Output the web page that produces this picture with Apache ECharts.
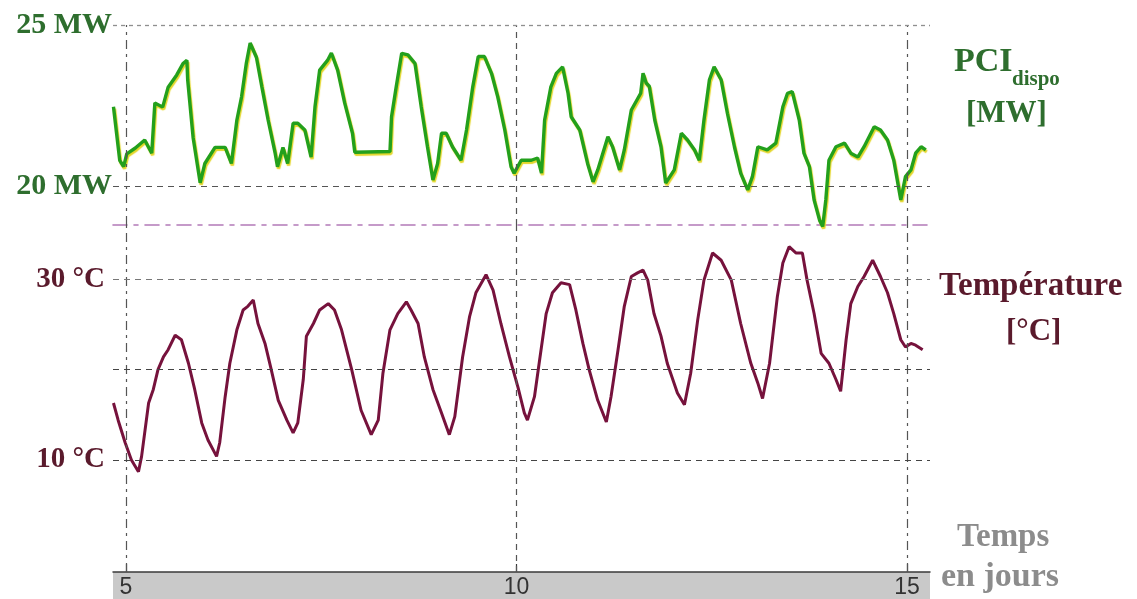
<!DOCTYPE html>
<html>
<head>
<meta charset="utf-8">
<script src="https://cdn.jsdelivr.net/npm/echarts@6/dist/echarts.min.js"></script>
<style>
html,body{margin:0;padding:0;background:#fff;}
#chart{width:1137px;height:599px;}
</style>
</head>
<body>
<div id="chart"></div>
<script>
// ---- data (days, values) ----
const pciDays = [4.84,4.92,4.97,5.01,5.12,5.24,5.33,5.37,5.47,5.54,5.65,5.73,5.78,5.79,5.86,5.95,6.01,6.14,6.27,6.35,6.42,6.48,6.54,6.59,6.67,6.74,6.82,6.91,6.94,7.01,7.07,7.14,7.20,7.29,7.37,7.42,7.48,7.58,7.63,7.71,7.80,7.90,7.93,8.38,8.40,8.46,8.53,8.61,8.70,8.78,8.86,8.93,8.99,9.04,9.10,9.18,9.29,9.36,9.44,9.51,9.59,9.68,9.76,9.85,9.93,9.97,10.06,10.19,10.27,10.32,10.36,10.44,10.51,10.59,10.66,10.70,10.81,10.91,10.98,11.04,11.17,11.23,11.32,11.38,11.47,11.59,11.62,11.66,11.70,11.77,11.85,11.91,12.02,12.11,12.19,12.28,12.34,12.40,12.47,12.53,12.62,12.70,12.79,12.87,12.96,13.02,13.09,13.21,13.32,13.41,13.47,13.53,13.62,13.68,13.75,13.81,13.88,13.92,13.96,14.00,14.09,14.20,14.28,14.37,14.45,14.58,14.66,14.75,14.83,14.92,14.98,15.05,15.11,15.18,15.24];
const pciMW = [22.46,20.8,20.6,21.0,21.18,21.43,21.02,22.58,22.45,23.07,23.45,23.8,23.9,23.3,21.5,20.1,20.7,21.2,21.2,20.7,22.05,22.77,23.8,24.44,24.0,23.08,22.05,21.02,20.6,21.2,20.7,21.95,21.95,21.74,20.9,22.46,23.6,23.9,24.13,23.6,22.58,21.64,21.05,21.07,22.15,23.08,24.12,24.07,23.81,22.46,21.22,20.19,20.7,21.64,21.64,21.22,20.8,21.74,23.08,24.02,24.02,23.5,22.77,21.74,20.6,20.4,20.8,20.8,20.87,20.4,22.05,23.08,23.5,23.7,22.88,22.15,21.74,20.7,20.13,20.5,21.53,21.22,20.5,21.12,22.36,22.88,23.5,23.2,23.1,22.05,21.22,20.09,20.5,21.64,21.43,21.12,20.8,22.05,23.3,23.7,23.3,22.26,21.22,20.4,19.88,20.29,21.22,21.12,21.33,22.46,22.88,22.93,22.05,21.02,20.6,19.57,18.94,18.74,19.57,20.8,21.22,21.33,21.02,20.9,21.22,21.84,21.74,21.43,20.8,19.57,20.29,20.5,21.02,21.22,21.12];

const tempDays = [4.84,4.90,4.99,5.07,5.16,5.20,5.29,5.35,5.41,5.48,5.54,5.63,5.71,5.80,5.88,5.97,6.05,6.16,6.20,6.27,6.33,6.42,6.50,6.56,6.63,6.69,6.78,6.86,6.95,7.06,7.14,7.20,7.27,7.31,7.40,7.48,7.59,7.67,7.76,7.89,8.01,8.14,8.23,8.29,8.38,8.48,8.59,8.65,8.74,8.82,8.93,9.04,9.14,9.21,9.31,9.40,9.48,9.61,9.70,9.80,9.91,10.02,10.10,10.14,10.23,10.29,10.38,10.46,10.57,10.68,10.76,10.85,10.93,11.04,11.15,11.21,11.30,11.38,11.47,11.55,11.62,11.68,11.76,11.85,11.93,12.06,12.15,12.23,12.32,12.40,12.51,12.62,12.75,12.87,13.00,13.09,13.15,13.24,13.34,13.41,13.49,13.58,13.66,13.72,13.81,13.90,14.00,14.09,14.15,14.22,14.28,14.37,14.45,14.56,14.66,14.75,14.83,14.92,14.98,15.05,15.11,15.20];
const tempC = [16.3,14.4,11.9,10.0,8.7,10.4,16.3,17.8,20.0,21.4,22.2,23.8,23.3,20.7,17.8,14.1,12.2,10.4,11.9,17.0,20.7,24.4,26.6,27.0,27.7,25.1,22.9,20.0,16.6,14.4,13.0,14.1,18.9,23.7,25.1,26.6,27.3,26.6,24.4,20.0,15.5,12.8,14.4,19.6,24.4,26.2,27.5,26.6,25.1,21.4,17.8,15.2,12.8,14.8,21.4,25.9,28.5,30.5,28.8,25.1,21.4,18.0,15.2,14.4,17.0,20.7,26.2,28.5,29.6,29.4,26.6,22.9,20.0,16.6,14.2,17.0,22.2,27.0,30.3,30.7,31.0,29.9,26.2,23.7,20.7,17.4,16.1,19.6,25.5,29.9,32.9,32.1,29.9,25.1,20.7,18.5,16.8,20.7,28.1,31.8,33.6,32.9,32.9,29.9,26.2,21.8,20.7,18.9,17.6,23.3,27.3,29.2,30.3,32.1,30.3,28.5,26.2,23.3,22.5,22.9,22.7,22.2];

const xTicks = [5, 10, 15];
const mwTicks = [20, 25];
const tempTicks = [10, 30];
const tempGridValues = [10, 20, 30];

const XMIN = 4.834, XMAX = 15.294;

const pciData = pciDays.map((d, i) => [d, pciMW[i]]);
const tempData = tempDays.map((d, i) => [d, tempC[i]]);

const serif = '"Liberation Serif","DejaVu Serif",serif';
const GREEN_TXT = '#2e6e2e';
const MAROON_TXT = '#5a1a2c';

const dashDot = [9, 5, 3, 5];
const dashed = [6, 5];

function vlines(){
  return xTicks.map((v, i) => ({
    xAxis: v,
    lineStyle: { color: '#555', width: 1.2, type: i === 1 ? dashed : dashDot }
  }));
}

const chart = echarts.init(document.getElementById('chart'), null, {renderer: 'canvas'});
chart.setOption({
  animation: false,
  backgroundColor: '#ffffff',
  grid: [
    { left: 113, width: 817, top: 25, height: 200 },
    { left: 113, width: 817, top: 225, height: 347 }
  ],
  xAxis: [
    { gridIndex: 0, type: 'value', min: XMIN, max: XMAX,
      axisLine: { show: true, onZero: false, lineStyle: { color: '#b27ab8', width: 1.6, type: [14, 7, 4, 7] } },
      axisTick: { show: false }, axisLabel: { show: false }, splitLine: { show: false } },
    { gridIndex: 1, type: 'value', min: XMIN, max: XMAX,
      axisLine: { show: true, onZero: false, lineStyle: { color: '#3a3a3a', width: 1.5 } },
      axisTick: { show: true, inside: true, length: 8, customValues: xTicks, lineStyle: { color: '#3a3a3a', width: 1.2 } },
      axisLabel: { customValues: xTicks, color: '#333', fontFamily: '"Liberation Sans",Arial,sans-serif', fontSize: 23, margin: 4 },
      splitLine: { show: false } }
  ],
  yAxis: [
    { gridIndex: 0, type: 'value', min: 18.79, max: 25,
      axisLine: { show: false }, axisTick: { show: false }, splitLine: { show: false },
      axisLabel: { customValues: mwTicks, formatter: '{value} MW', color: GREEN_TXT, fontFamily: serif, fontWeight: 'bold', fontSize: 30, margin: 1 } },
    { gridIndex: 1, type: 'value', min: -2.4, max: 36,
      axisLine: { show: false }, axisTick: { show: false }, splitLine: { show: false },
      axisLabel: { customValues: tempTicks, formatter: '{value} °C', color: MAROON_TXT, fontFamily: serif, fontWeight: 'bold', fontSize: 29, margin: 8 } }
  ],
  graphic: [
    { type: 'rect', z: -1, shape: { x: 113, y: 572, width: 817, height: 27 }, style: { fill: '#c9c9c9' } },
    { type: 'text', left: 954, top: 45, style: { text: 'PCI', font: 'bold 34px ' + serif, fill: GREEN_TXT } },
    { type: 'text', left: 1012, top: 69, style: { text: 'dispo', font: 'bold 21px ' + serif, fill: GREEN_TXT } },
    { type: 'text', left: 966, top: 98, style: { text: '[MW]', font: 'bold 31px ' + serif, fill: GREEN_TXT } },
    { type: 'text', left: 939, top: 270, style: { text: 'Température', font: 'bold 33px ' + serif, fill: MAROON_TXT } },
    { type: 'text', left: 1006, top: 316, style: { text: '[°C]', font: 'bold 31px ' + serif, fill: MAROON_TXT } },
    { type: 'text', left: 957, top: 521, style: { text: 'Temps', font: 'bold 33px ' + serif, fill: '#8c8c8c' } },
    { type: 'text', left: 941, top: 560, style: { text: 'en jours', font: 'bold 34px ' + serif, fill: '#8c8c8c' } }
  ],
  series: [
    { type: 'line', xAxisIndex: 0, yAxisIndex: 0, data: [], z: 1, silent: true,
      markLine: { silent: true, symbol: 'none', label: { show: false }, animation: false,
        data: vlines().concat([
          { yAxis: 25, lineStyle: { color: '#8f8f8f', width: 1.3, type: [4, 4] } },
          { yAxis: 20, lineStyle: { color: '#555', width: 1.2, type: dashed } }
        ]) } },
    { type: 'line', xAxisIndex: 1, yAxisIndex: 1, data: [], z: 1, silent: true,
      markLine: { silent: true, symbol: 'none', label: { show: false }, animation: false,
        data: vlines().concat(tempGridValues.map(v => ({ yAxis: v, lineStyle: { color: v === 30 ? '#777' : '#444', width: 1.2, type: dashed } }))) } },
    { name: 'PCI dispo', type: 'line', xAxisIndex: 0, yAxisIndex: 0, data: pciData, z: 3,
      showSymbol: false, clip: false,
      lineStyle: { color: '#23a01c', width: 3.4, shadowColor: '#e3d62a', shadowBlur: 1, shadowOffsetX: 1, shadowOffsetY: 2 } },
    { name: 'Température', type: 'line', xAxisIndex: 1, yAxisIndex: 1, data: tempData, z: 3,
      showSymbol: false, clip: false,
      lineStyle: { color: '#76123c', width: 3 } }
  ]
});
</script>
</body>
</html>
